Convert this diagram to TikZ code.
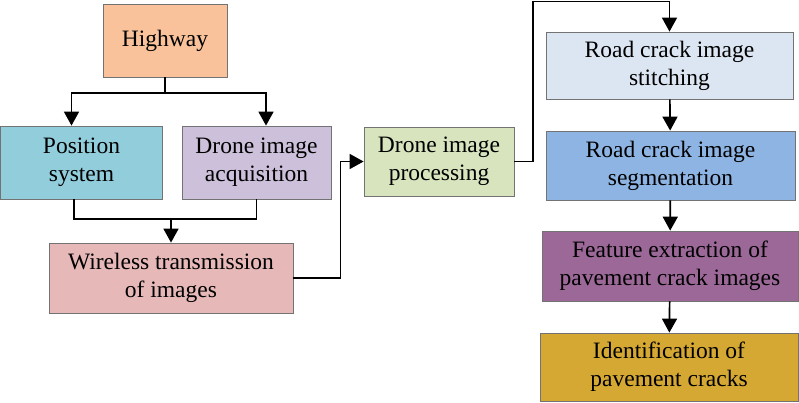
\documentclass[tikz,border=0pt]{standalone}
\usepackage{fontspec}
\setmainfont{Liberation Serif}
\usetikzlibrary{arrows.meta}

\definecolor{cHighway}{HTML}{F9C29A}
\definecolor{cPosition}{HTML}{92CDDC}
\definecolor{cAcquire}{HTML}{CCC0DA}
\definecolor{cWireless}{HTML}{E6B9B8}
\definecolor{cProcess}{HTML}{D7E4BD}
\definecolor{cStitch}{HTML}{DCE6F2}
\definecolor{cSegment}{HTML}{8EB4E3}
\definecolor{cFeature}{HTML}{9B6898}
\definecolor{cIdentify}{HTML}{D5A833}

\tikzset{
  box/.style={draw=black!55, line width=0.8pt, align=center, inner sep=0pt,
    font=\fontsize{23.5}{28}\selectfont},
  arr/.style={line width=1.7pt, -{Triangle[length=14pt,width=15pt]}},
  wire/.style={line width=1.7pt}
}

\begin{document}
\begin{tikzpicture}[x=1pt,y=-1pt]
    \useasboundingbox (0,0) rectangle (799,402);

    % Left part
    \node[box, fill=cHighway, minimum width=124pt, minimum height=73pt] (highway) at (165,40.5) {Highway};
    \node[box, fill=cPosition, minimum width=162pt, minimum height=73pt] (position) at (81.5,162.5) {Position\\system};
    \node[box, fill=cAcquire, minimum width=149pt, minimum height=73pt] (acquire) at (256.5,162.5) {Drone image\\acquisition};
    \node[box, fill=cWireless, minimum width=244pt, minimum height=70pt] (wireless) at (171,278) {Wireless transmission\\of images};

    % Middle
    \node[box, fill=cProcess, minimum width=150pt, minimum height=69pt] (process) at (439,161.5) {Drone image\\processing};

    % Right column
    \node[box, fill=cStitch, minimum width=247pt, minimum height=67pt] (stitch) at (669.5,65.5) {Road crack image\\stitching};
    \node[box, fill=cSegment, minimum width=249pt, minimum height=69pt] (segment) at (670.5,165.5) {Road crack image\\segmentation};
    \node[box, fill=cFeature, minimum width=256pt, minimum height=70pt] (feature) at (670,266) {Feature extraction of\\pavement crack images};
    \node[box, fill=cIdentify, minimum width=258pt, minimum height=68pt] (identify) at (669,367) {Identification of\\pavement cracks};

    % Junctions
    \coordinate (split) at (165,93);
    \coordinate (merge) at (171,219);
    \coordinate (up) at (533,1.5);

    % Arrows
    \draw[wire] (highway.south) -- (split);
    \draw[arr] (split) -| ([xshift=-10pt]position.north);
    \draw[arr] (split) -| ([xshift=9.5pt]acquire.north);
    \draw[wire] ([xshift=-7.5pt]position.south) |- (merge);
    \draw[wire] (acquire.south) |- (merge);
    \draw[arr] (merge) -- (wireless.north);
    \draw[arr] (wireless.east) -- ++(47,0) |- (process.west);
    \draw[arr] (process.east) -- (process.east -| up) -- (up) -| (stitch.north);
    \draw[arr] (stitch) -- (segment);
    \draw[arr] (segment) -- (feature);
    \draw[arr] (feature) -- (identify);

  \end{tikzpicture}
\end{document}
